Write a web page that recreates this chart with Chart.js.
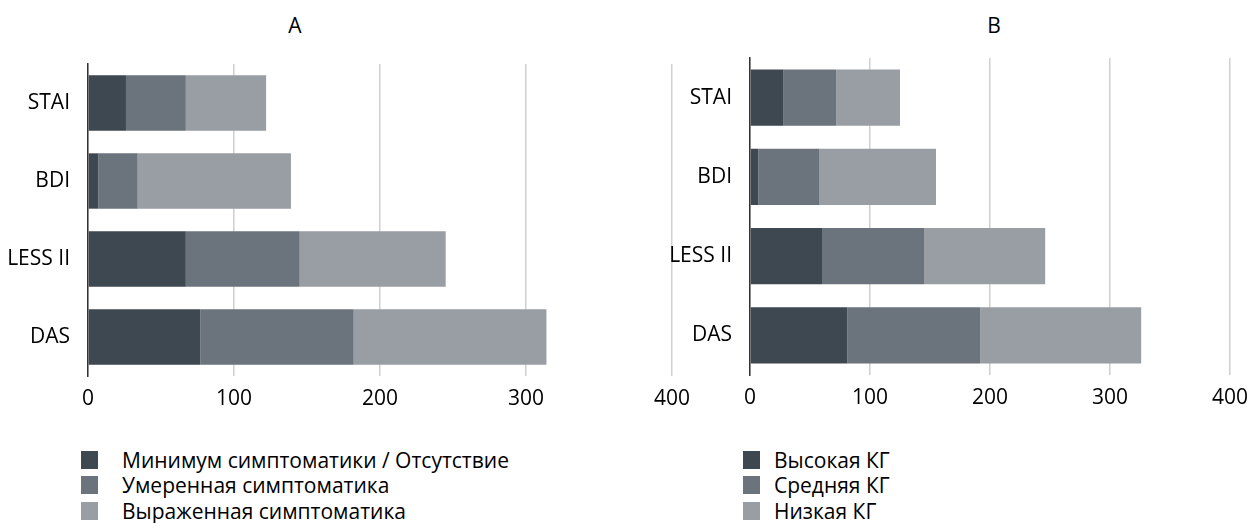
<!DOCTYPE html>
<html>
<head>
<meta charset="utf-8">
<script src="https://cdn.jsdelivr.net/npm/chart.js@4"></script>
<style>
  body { margin: 0; background: #fff; width: 1258px; height: 523px; position: relative; overflow: hidden; font-family: "Open Sans", sans-serif; color: #000; }
  canvas { position: absolute; top: 0; }
  #chartA { left: 0; }
  #chartB { left: 650px; }
  .title { position: absolute; top: 11px; font-size: 21px; transform: translateX(-50%); }
  .legend { position: absolute; top: 447px; font-size: 21px; }
  .legend .row { height: 25.5px; display: flex; align-items: center; }
  .legend .box { width: 17px; height: 18px; display: inline-block; flex: none; }
</style>
</head>
<body>
<div class="title" style="left:295px">A</div>
<div class="title" style="left:994px">B</div>
<canvas id="chartA" width="700" height="420"></canvas>
<canvas id="chartB" width="608" height="420"></canvas>
<div class="legend" id="legendA" style="left:81px"></div>
<div class="legend" id="legendB" style="left:743px"></div>
<script>
const categories = ['STAI', 'BDI', 'LESS II', 'DAS'];
const xTicks = [0, 100, 200, 300, 400];
const colors = ['#3e4851', '#6b737c', '#989ea4'];

// A: уровень симптоматики
const labelsA = ['Минимум симптоматики / Отсутствие', 'Умеренная симптоматика', 'Выраженная симптоматика'];
const minimalA = [26, 7, 67, 77];
const moderateA = [41, 27, 78, 105];
const severeA = [55, 105, 100, 132];

// B: уровень КГ
const labelsB = ['Высокая КГ', 'Средняя КГ', 'Низкая КГ'];
const highB = [28, 7, 60, 81];
const mediumB = [44, 51, 85, 111];
const lowB = [53, 97, 101, 134];

function makeChart(id, labels, series, yWidth, pad) {
    const ctx = document.getElementById(id).getContext('2d');
    return new Chart(ctx, {
        type: 'bar',
        data: {
            labels: categories,
            datasets: series.map((data, i) => ({
                label: labels[i],
                data: data,
                backgroundColor: colors[i],
                borderWidth: 0,
                barPercentage: 0.71,
                categoryPercentage: 1
            }))
        },
        options: {
            indexAxis: 'y',
            responsive: false,
            animation: false,
            devicePixelRatio: 1,
            layout: { padding: pad },
            plugins: { legend: { display: false }, tooltip: { enabled: false } },
            scales: {
                x: {
                    stacked: true,
                    min: xTicks[0],
                    max: xTicks[xTicks.length - 1],
                    afterBuildTicks: s => { s.ticks = xTicks.map(v => ({ value: v })); },
                    afterFit: s => { s.height = 40; },
                    grid: { color: '#d0d0d0', lineWidth: 1.5, drawTicks: false },
                    border: { display: false },
                    ticks: { color: '#000', padding: 10, font: { family: 'Open Sans', size: 21 } }
                },
                y: {
                    stacked: true,
                    afterFit: s => { s.width = yWidth; },
                    grid: { display: false, drawTicks: false },
                    border: { display: true, color: '#333', width: 1.5 },
                    ticks: { color: '#000', padding: 18, font: { family: 'Open Sans', size: 21 } }
                }
            }
        }
    });
}

function makeLegend(id, labels, textLeft) {
    const el = document.getElementById(id);
    labels.forEach((lab, i) => {
        const row = document.createElement('div');
        row.className = 'row';
        const box = document.createElement('span');
        box.className = 'box';
        box.style.background = colors[i];
        const txt = document.createElement('span');
        txt.textContent = lab;
        txt.style.marginLeft = textLeft + 'px';
        row.appendChild(box);
        row.appendChild(txt);
        el.appendChild(row);
    });
}

makeChart('chartA', labelsA, [minimalA, moderateA, severeA], 88, { top: 64, bottom: 4, left: 0, right: 28 });
makeChart('chartB', labelsB, [highB, mediumB, lowB], 100, { top: 58, bottom: 5, left: 0, right: 19 });
makeLegend('legendA', labelsA, 24);
makeLegend('legendB', labelsB, 14);
</script>
</body>
</html>
